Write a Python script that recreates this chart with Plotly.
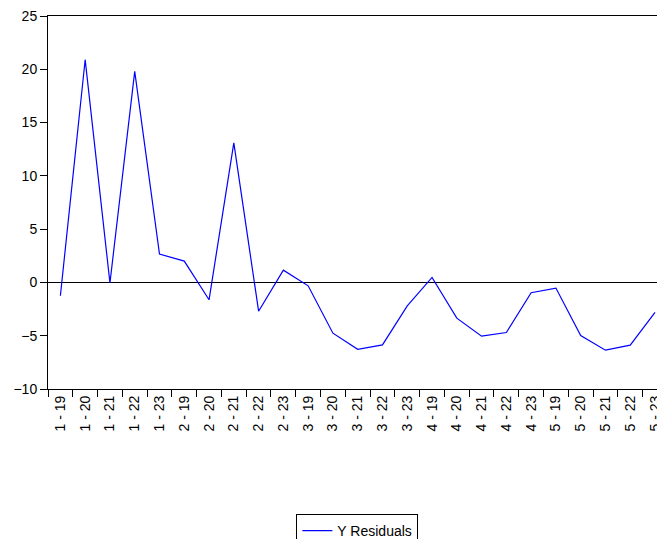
import plotly.graph_objects as go

categories = ["1 - 19", "1 - 20", "1 - 21", "1 - 22", "1 - 23",
              "2 - 19", "2 - 20", "2 - 21", "2 - 22", "2 - 23",
              "3 - 19", "3 - 20", "3 - 21", "3 - 22", "3 - 23",
              "4 - 19", "4 - 20", "4 - 21", "4 - 22", "4 - 23",
              "5 - 19", "5 - 20", "5 - 21", "5 - 22", "5 - 23"]
residuals = [-1.25, 20.9, -0.05, 19.8, 2.66,
             2.0, -1.63, 13.1, -2.7, 1.15,
             -0.32, -4.76, -6.27, -5.86, -2.2,
             0.47, -3.35, -5.04, -4.7, -0.97,
             -0.53, -4.98, -6.36, -5.89, -2.82]
y_ticks = [-10, -5, 0, 5, 10, 15, 20, 25]

fig = go.Figure()
fig.add_trace(go.Scatter(
    x=categories, y=residuals, mode="lines", name="Y Residuals",
    line=dict(color="#0000FF", width=1.2),
))

font = dict(family="Liberation Sans, Arial, sans-serif", size=14, color="black")

fig.update_layout(
    width=657, height=539,
    margin=dict(l=48, r=0, t=16, b=150, autoexpand=False),
    paper_bgcolor="white", plot_bgcolor="white",
    font=font,
    showlegend=True,
    legend=dict(
        x=0.508, xanchor="center", y=-0.335, yanchor="top",
        orientation="h", bordercolor="black", borderwidth=1,
        bgcolor="white", font=font,
    ),
    xaxis=dict(
        type="category", range=[-0.5, 24.08], automargin=False,
        tickson="boundaries", ticks="outside", ticklen=7, tickcolor="black",
        showline=True, linecolor="black", linewidth=1, mirror=True,
        showgrid=False, tickangle=-90, tickfont=font,
        ticklabeloverflow="allow",
    ),
    yaxis=dict(
        range=[-10, 25], tickvals=y_ticks, automargin=False,
        ticks="outside", ticklen=7, tickcolor="black",
        showline=True, linecolor="black", linewidth=1,
        showgrid=False, zeroline=True, zerolinecolor="black", zerolinewidth=1,
        tickfont=font, ticklabeloverflow="allow",
    ),
)

fig.write_html(
    "out.html",
    config={"displayModeBar": False},
    post_script="document.body.style.margin='0';document.body.style.overflow='hidden';",
)
